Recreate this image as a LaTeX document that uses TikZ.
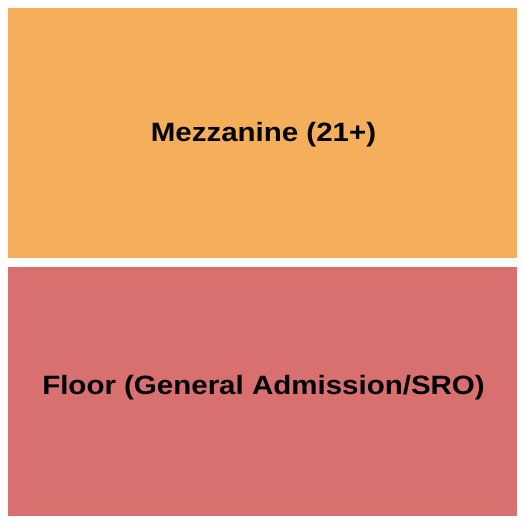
\documentclass[tikz,border=0pt]{standalone}
\usepackage{fontspec}
\setmainfont{Liberation Sans}
\definecolor{mezz}{HTML}{F5AE5A}
\definecolor{floorc}{HTML}{D97070}
\begin{document}
\begin{tikzpicture}[x=1pt,y=1pt,
  lbl/.style={anchor=base,inner sep=0pt,font=\fontsize{26.5}{30}\selectfont\bfseries}]
\useasboundingbox (0,0) rectangle (525,525);
\fill[white] (0,0) rectangle (525,525);
\fill[mezz] (8,267) rectangle (517,517);
\fill[floorc] (8,9) rectangle (517,258);
\node[lbl] (mezzl) at (263.5,383.5) {\scalebox{1.113}[1]{Mezzanine (21+)}};
\node[lbl] (floorl) at (263.5,130) {\scalebox{1.113}[1]{Floor (General Admission/SRO)}};
\end{tikzpicture}
\end{document}
